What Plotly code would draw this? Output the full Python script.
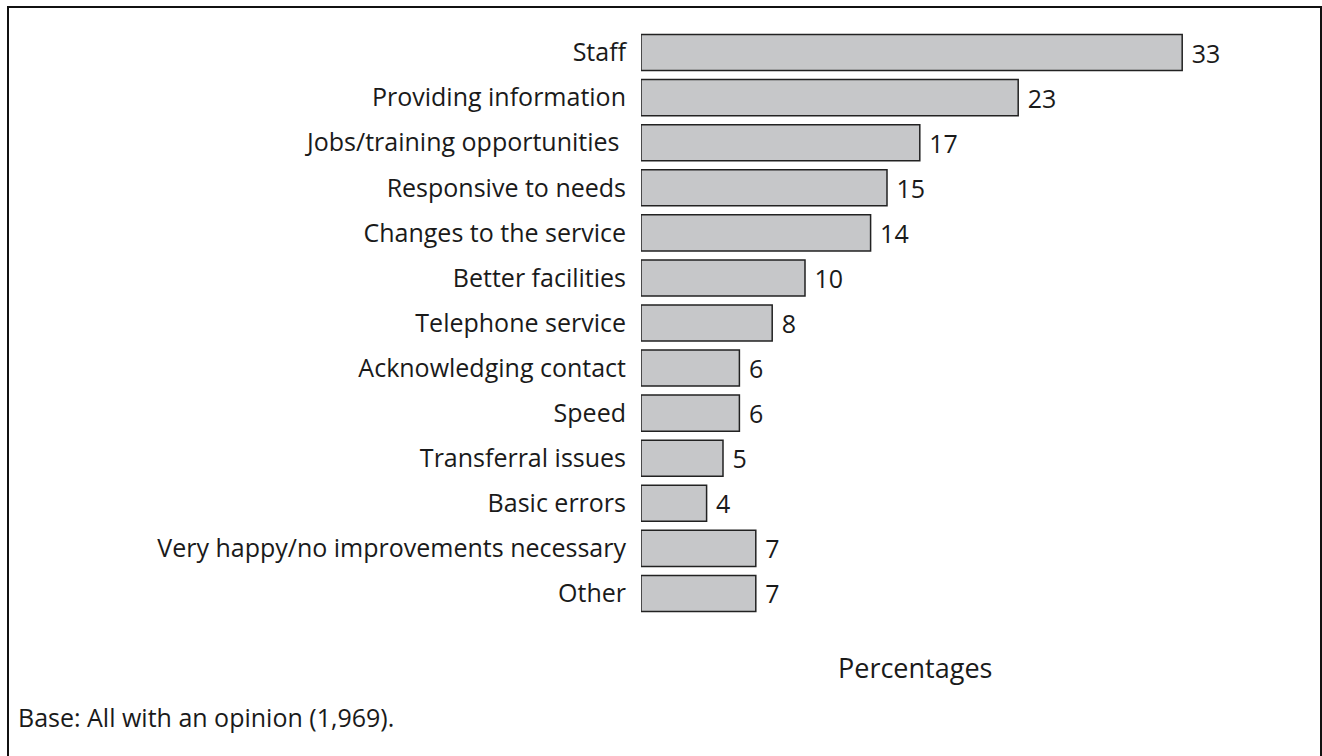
import plotly.graph_objects as go

# Survey responses: suggested improvements (percent of respondents)
categories = [
    "Staff",
    "Providing information",
    "Jobs/training opportunities ",
    "Responsive to needs",
    "Changes to the service",
    "Better facilities",
    "Telephone service",
    "Acknowledging contact",
    "Speed",
    "Transferral issues",
    "Basic errors",
    "Very happy/no improvements necessary",
    "Other",
]
values = [33, 23, 17, 15, 14, 10, 8, 6, 6, 5, 4, 7, 7]

axis_title = "Percentages"
base_note = "Base: All with an opinion (1,969)."

W, H = 1322, 756
ML, MR, MT, MB = 641, 22, 30, 140
PX_PER_UNIT = 16.4
plot_w = W - ML - MR
plot_h = H - MT - MB

FONT = "Open Sans, sans-serif"
TXT = "#1a1a1a"
SIZE = 25

fig = go.Figure(
    go.Bar(
        x=values,
        y=categories,
        orientation="h",
        marker=dict(color="#c6c7c9", line=dict(color="#222222", width=1.5)),
        text=values,
        texttemplate=" %{x}",
        textposition="outside",
        textfont=dict(family=FONT, size=SIZE, color=TXT),
        cliponaxis=False,
        hoverinfo="skip",
    )
)


def px_x(px):
    return (px - ML) / plot_w


def px_y(py):
    return 1 - (py - MT) / plot_h


fig.update_layout(
    width=W,
    height=H,
    margin=dict(l=ML, r=MR, t=MT, b=MB, pad=0),
    paper_bgcolor="white",
    plot_bgcolor="white",
    bargap=0.2,
    showlegend=False,
    font=dict(family=FONT, size=SIZE, color=TXT),
    xaxis=dict(
        range=[0, plot_w / PX_PER_UNIT],
        visible=False,
        fixedrange=True,
    ),
    yaxis=dict(
        type="category",
        categoryorder="array",
        categoryarray=categories,
        range=[len(categories) - 0.5, -0.5],
        showgrid=False,
        zeroline=False,
        showline=False,
        ticks="",
        ticklabelstandoff=14,
        tickfont=dict(family=FONT, size=SIZE, color=TXT),
        fixedrange=True,
    ),
    shapes=[
        dict(
            type="rect",
            xref="paper",
            yref="paper",
            x0=px_x(8),
            x1=px_x(1321),
            y0=px_y(762),
            y1=px_y(7),
            line=dict(color="#111111", width=2),
            fillcolor="rgba(0,0,0,0)",
            layer="above",
        )
    ],
    annotations=[
        dict(
            text=axis_title,
            xref="paper",
            yref="paper",
            x=px_x(915),
            y=px_y(667),
            xanchor="center",
            yanchor="middle",
            showarrow=False,
            font=dict(family=FONT, size=27, color=TXT),
        ),
        dict(
            text=base_note,
            xref="paper",
            yref="paper",
            x=px_x(16),
            y=px_y(717),
            xanchor="left",
            yanchor="middle",
            showarrow=False,
            font=dict(family=FONT, size=SIZE, color=TXT),
        ),
    ],
)

fig.write_html("out.html", config={"displayModeBar": False})
